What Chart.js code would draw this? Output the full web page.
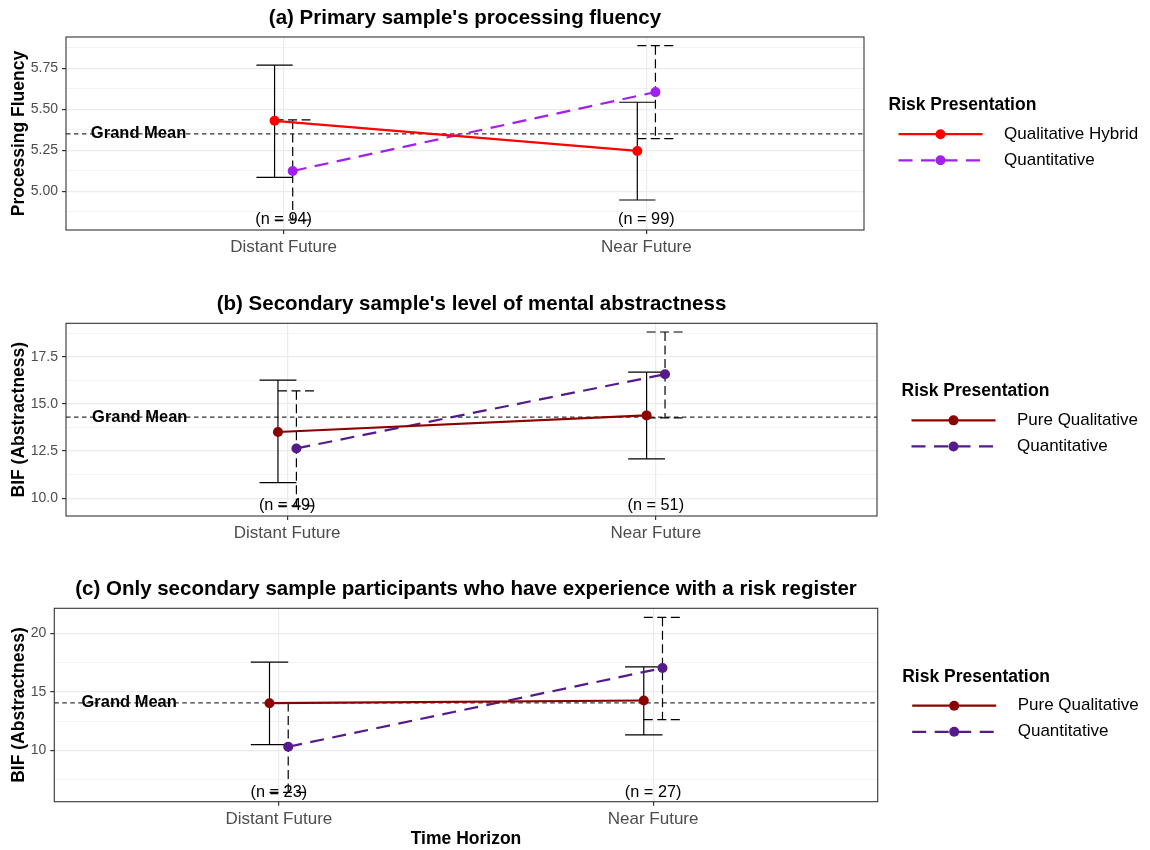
<!DOCTYPE html>
<html>
<head>
<meta charset="utf-8">
<script src="https://cdn.jsdelivr.net/npm/chart.js@4.4.0/dist/chart.umd.min.js"></script>
<style>
  body { margin: 0; background: #fff; }
  canvas { display: block; }
</style>
</head>
<body>
<canvas id="panelA" width="1150" height="285"></canvas>
<canvas id="panelB" width="1150" height="285"></canvas>
<canvas id="panelC" width="1150" height="280"></canvas>
<script>
const categories = ['Distant Future', 'Near Future'];

// (a) primary sample, processing fluency
const aQualHybrid = [5.43, 5.246];
const aQualHybridLow = [5.085, 4.947];
const aQualHybridHigh = [5.77, 5.543];
const aQuant = [5.124, 5.605];
const aQuantLow = [4.825, 5.321];
const aQuantHigh = [5.435, 5.888];
const aGrandMean = 5.35;
const aN = [94, 99];
const aYTicks = [5.00, 5.25, 5.50, 5.75];
const aYLabels = ['5.00', '5.25', '5.50', '5.75'];
const aYMinor = [4.875, 5.125, 5.375, 5.625, 5.875];

// (b) secondary sample, BIF
const bPureQual = [13.51, 14.39];
const bPureQualLow = [10.83, 12.09];
const bPureQualHigh = [16.26, 16.68];
const bQuant = [12.64, 16.57];
const bQuantLow = [9.6, 14.26];
const bQuantHigh = [15.69, 18.81];
const bGrandMean = 14.30;
const bN = [49, 51];
const bYTicks = [10.0, 12.5, 15.0, 17.5];
const bYLabels = ['10.0', '12.5', '15.0', '17.5'];
const bYMinor = [11.25, 13.75, 16.25, 18.75];

// (c) secondary sample with risk register experience
const cPureQual = [14.03, 14.26];
const cPureQualLow = [10.48, 11.33];
const cPureQualHigh = [17.54, 17.14];
const cQuant = [10.31, 17.03];
const cQuantLow = [6.4, 12.63];
const cQuantHigh = [14.09, 21.37];
const cGrandMean = 14.05;
const cN = [23, 27];
const cYTicks = [10, 15, 20];
const cYLabels = ['10', '15', '20'];
const cYMinor = [7.5, 12.5, 17.5];

const FONT = '"Liberation Sans", Arial, Helvetica, sans-serif';
const DODGE = 0.025;
const CAP = 0.05;
const GM_LABEL_X = 0.6;
Chart.defaults.font.family = FONT;

function errorBarPoints(low, high, offset) {
  const pts = [];
  low.forEach((lo, i) => {
    const cx = i + 1 + offset, hi = high[i];
    pts.push({x: cx - CAP, y: hi}, {x: cx + CAP, y: hi}, {x: cx, y: null},
             {x: cx, y: hi}, {x: cx, y: lo}, {x: cx, y: null},
             {x: cx - CAP, y: lo}, {x: cx + CAP, y: lo}, {x: cx, y: null});
  });
  return pts;
}

// titles, labels, border, legend
const panelDecor = {
  id: 'panelDecor',
  afterDatasetsDraw(chart, args, o) {
    const {ctx, chartArea: a, scales: {x, y}} = chart;
    ctx.save();
    ctx.strokeStyle = '#333333';
    ctx.lineWidth = 1.1;
    ctx.strokeRect(a.left, a.top, a.right - a.left, a.bottom - a.top);

    ctx.fillStyle = '#000';
    ctx.textBaseline = 'middle';
    ctx.textAlign = 'center';
    ctx.font = 'bold 16.5px ' + FONT;
    ctx.fillText('Grand Mean', x.getPixelForValue(GM_LABEL_X), y.getPixelForValue(o.grandMean));

    ctx.font = '16.3px ' + FONT;
    o.nValues.forEach((n, i) => {
      ctx.fillText('(n = ' + n + ')', x.getPixelForValue(i + 1), y.getPixelForValue(o.nY));
    });

    ctx.font = 'bold 20.5px ' + FONT;
    ctx.fillText(o.title, (a.left + a.right) / 2, a.top - 18.5);

    // legend
    const cy = (a.top + a.bottom) / 2;
    ctx.textAlign = 'left';
    ctx.font = 'bold 17.5px ' + FONT;
    ctx.fillText('Risk Presentation', a.right + 24.5, cy - 28.3);
    ctx.font = '17px ' + FONT;
    o.items.forEach((it, i) => {
      const ly = cy + 0.7 + i * 26.1;
      const x1 = a.right + 34.5, x2 = a.right + 118.5;
      ctx.strokeStyle = it.color;
      ctx.lineWidth = 2.2;
      ctx.setLineDash(it.dash);
      ctx.beginPath();
      ctx.moveTo(x1, ly);
      ctx.lineTo(x2, ly);
      ctx.stroke();
      ctx.setLineDash([]);
      ctx.fillStyle = it.color;
      ctx.beginPath();
      ctx.arc((x1 + x2) / 2, ly, 5, 0, Math.PI * 2);
      ctx.fill();
      ctx.fillStyle = '#000';
      ctx.fillText(it.label, a.right + 140, ly);
    });
    ctx.restore();
  }
};

function buildPanel(id, p) {
  const canvas = document.getElementById(id);
  const H = canvas.height;
  const allTicks = p.yTicks.concat(p.yMinor).sort((m, n) => m - n);
  const isMajor = v => p.yTicks.some(t => Math.abs(t - v) < 1e-9);

  const datasets = [];
  p.series.forEach(s => {
    datasets.push({
      data: s.values.map((v, i) => ({x: i + 1 + s.offset, y: v})),
      borderColor: s.color,
      backgroundColor: s.color,
      borderWidth: 2.2,
      borderDash: s.dash,
      pointRadius: 5,
      pointBorderWidth: 0,
      pointBackgroundColor: s.color,
      order: 1
    });
    datasets.push({
      data: errorBarPoints(s.low, s.high, s.offset),
      borderColor: '#000000',
      borderWidth: 1.2,
      borderDash: s.barDash,
      pointRadius: 0,
      spanGaps: false,
      order: 2
    });
  });
  datasets.push({
    data: [{x: 0.4, y: p.grandMean}, {x: 2.6, y: p.grandMean}],
    borderColor: '#333333',
    borderWidth: 1.2,
    borderDash: [4.5, 3.5],
    pointRadius: 0,
    order: 3
  });

  return new Chart(canvas, {
    type: 'line',
    data: {datasets},
    plugins: [panelDecor],
    options: {
      responsive: false,
      animation: false,
      layout: {padding: {top: p.area.top, left: 0, right: 1150 - p.area.right, bottom: 0}},
      elements: {line: {tension: 0}},
      plugins: {
        legend: {display: false},
        tooltip: {enabled: false},
        panelDecor: {
          title: p.title,
          grandMean: p.grandMean,
          nValues: p.nValues,
          nY: Math.min(...p.series.map(s => Math.min(...s.low))),
          items: p.series.map(s => ({label: s.label, color: s.color, dash: s.dash}))
        }
      },
      scales: {
        x: {
          type: 'linear',
          min: 0.4,
          max: 2.6,
          afterBuildTicks: sc => { sc.ticks = categories.map((c, i) => ({value: i + 1})); },
          afterFit: sc => { sc.height = H - p.area.bottom; },
          border: {display: false},
          grid: {color: '#EBEBEB', lineWidth: 1.2, tickColor: '#333333', tickLength: 4},
          ticks: {
            autoSkip: false, maxRotation: 0, padding: 3, color: '#4D4D4D',
            font: {size: 17},
            callback: v => categories[Math.round(v) - 1]
          },
          title: {
            display: p.xTitle, text: 'Time Horizon', color: '#000',
            font: {size: 17.5, weight: 'bold'}, padding: {top: 0, bottom: 0}
          }
        },
        y: {
          type: 'linear',
          min: p.yMin,
          max: p.yMax,
          afterBuildTicks: sc => { sc.ticks = allTicks.map(v => ({value: v})); },
          afterFit: sc => { sc.width = p.area.left; },
          border: {display: false},
          grid: {
            color: '#EBEBEB',
            lineWidth: c => (c.tick && isMajor(c.tick.value)) ? 1.2 : 0.6,
            tickColor: c => (c.tick && isMajor(c.tick.value)) ? '#333333' : 'rgba(0,0,0,0)',
            tickLength: 4
          },
          ticks: {
            autoSkip: false, padding: 4, color: '#4D4D4D',
            font: {size: 14},
            callback: v => {
              const k = p.yTicks.findIndex(t => Math.abs(t - v) < 1e-9);
              return k >= 0 ? p.yLabels[k] : '';
            }
          },
          title: {
            display: true, text: p.yTitle, color: '#000',
            font: {size: 17.5, weight: 'bold'}, padding: {top: 8.5, bottom: 0}
          }
        }
      }
    }
  });
}

buildPanel('panelA', {
  title: "(a) Primary sample's processing fluency",
  yTitle: 'Processing Fluency',
  xTitle: false,
  area: {left: 66, right: 864, top: 37, bottom: 230},
  yMin: 4.764, yMax: 5.941,
  yTicks: aYTicks, yLabels: aYLabels, yMinor: aYMinor,
  grandMean: aGrandMean, nValues: aN,
  series: [
    {label: 'Qualitative Hybrid', values: aQualHybrid, low: aQualHybridLow, high: aQualHybridHigh,
     color: '#FF0000', dash: [], barDash: [], offset: -DODGE},
    {label: 'Quantitative', values: aQuant, low: aQuantLow, high: aQuantHigh,
     color: '#A020F0', dash: [14, 8.5], barDash: [9, 4.5], offset: DODGE}
  ]
});

buildPanel('panelB', {
  title: "(b) Secondary sample's level of mental abstractness",
  yTitle: 'BIF (Abstractness)',
  xTitle: false,
  area: {left: 66, right: 877, top: 38.3, bottom: 231},
  yMin: 9.06, yMax: 19.27,
  yTicks: bYTicks, yLabels: bYLabels, yMinor: bYMinor,
  grandMean: bGrandMean, nValues: bN,
  series: [
    {label: 'Pure Qualitative', values: bPureQual, low: bPureQualLow, high: bPureQualHigh,
     color: '#8B0000', dash: [], barDash: [], offset: -DODGE},
    {label: 'Quantitative', values: bQuant, low: bQuantLow, high: bQuantHigh,
     color: '#551A8B', dash: [14, 8.5], barDash: [9, 4.5], offset: DODGE}
  ]
});

buildPanel('panelC', {
  title: '(c) Only secondary sample participants who have experience with a risk register',
  yTitle: 'BIF (Abstractness)',
  xTitle: true,
  area: {left: 54.3, right: 877.7, top: 38.3, bottom: 231.7},
  yMin: 5.61, yMax: 22.14,
  yTicks: cYTicks, yLabels: cYLabels, yMinor: cYMinor,
  grandMean: cGrandMean, nValues: cN,
  series: [
    {label: 'Pure Qualitative', values: cPureQual, low: cPureQualLow, high: cPureQualHigh,
     color: '#8B0000', dash: [], barDash: [], offset: -DODGE},
    {label: 'Quantitative', values: cQuant, low: cQuantLow, high: cQuantHigh,
     color: '#551A8B', dash: [14, 8.5], barDash: [9, 4.5], offset: DODGE}
  ]
});
</script>
</body>
</html>
